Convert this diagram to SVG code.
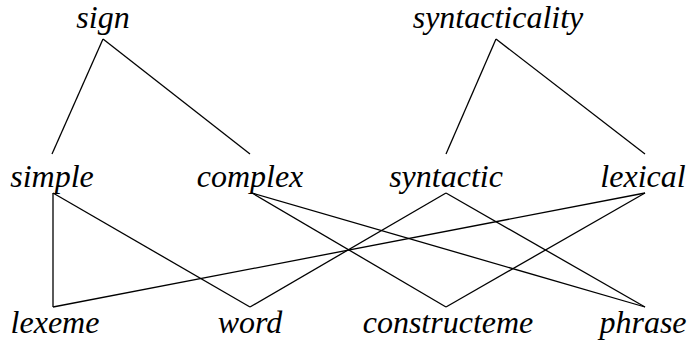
<svg xmlns="http://www.w3.org/2000/svg" width="687" height="341" viewBox="0 0 687 341">
<style>
text{font-family:'Liberation Serif','Times New Roman',serif;font-style:italic;font-size:32px;fill:#000;text-anchor:middle}
line{stroke:#000;stroke-width:1.3}
</style>
<rect width="687" height="341" fill="#fff"/>
<g id="connectors">
<line x1="103" y1="39" x2="52" y2="154"/>
<line x1="103" y1="39" x2="250" y2="154"/>
<line x1="496" y1="39" x2="446" y2="154"/>
<line x1="496" y1="39" x2="645" y2="154"/>
<line x1="53" y1="193" x2="53" y2="307"/>
<line x1="53" y1="193" x2="250" y2="307"/>
<line x1="252" y1="193" x2="645" y2="307"/>
<line x1="252" y1="193" x2="446" y2="307"/>
<line x1="446" y1="193" x2="250" y2="307"/>
<line x1="446" y1="193" x2="645" y2="307"/>
<line x1="645" y1="193" x2="53" y2="307"/>
<line x1="645" y1="193" x2="446" y2="307"/>
</g>
<g id="sign"><text x="103" y="28">sign</text></g>
<g id="syntacticality"><text x="498" y="28">syntacticality</text></g>
<g id="simple"><text x="52" y="187">simple</text></g>
<g id="complex"><text x="250" y="187">complex</text></g>
<g id="syntactic"><text x="446" y="187">syntactic</text></g>
<g id="lexical"><text x="643" y="187">lexical</text></g>
<g id="lexeme"><text x="55" y="333">lexeme</text></g>
<g id="word"><text x="250" y="333">word</text></g>
<g id="constructeme"><text x="448" y="333">constructeme</text></g>
<g id="phrase"><text x="643" y="333">phrase</text></g>
</svg>
